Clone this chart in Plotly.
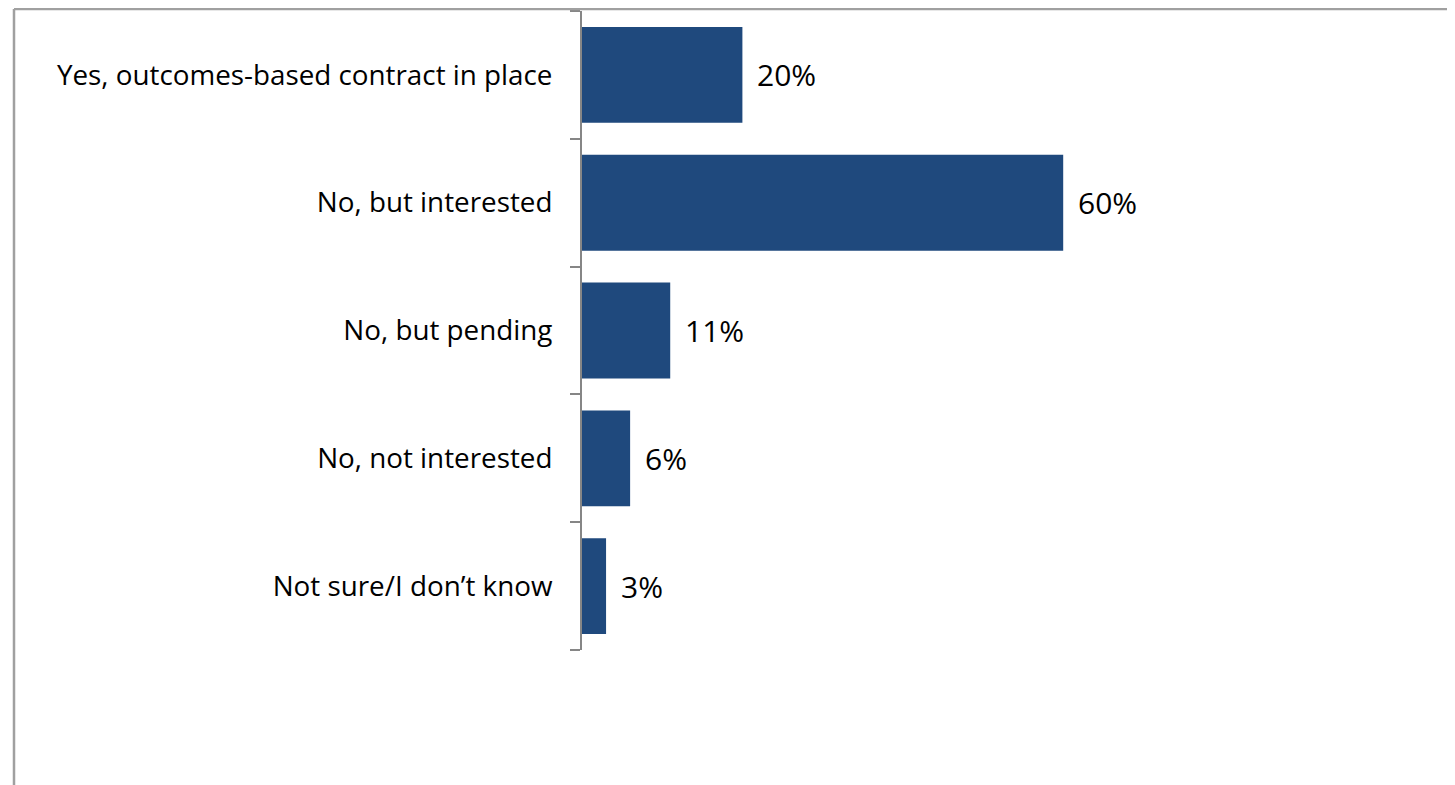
import plotly.graph_objects as go

categories = [
    "Yes, outcomes-based contract in place",
    "No, but interested",
    "No, but pending",
    "No, not interested",
    "Not sure/I don\u2019t know",
]
values = [20, 60, 11, 6, 3]
labels = ["20%", "60%", "11%", "6%", "3%"]

W, H = 1455, 785
ml, mt, mb, mr = 574, 3, 143, 0
pw = W - ml - mr
ph = H - mt - mb
xmax = pw / 8.02

fig = go.Figure()
fig.add_trace(go.Bar(
    y=categories, x=values, orientation="h",
    marker=dict(color="#1F497D", line=dict(width=0)),
    width=0.75,
    hoverinfo="x+y",
))

for c, v, t in zip(categories, values, labels):
    fig.add_annotation(x=v, y=c, text=t, showarrow=False,
                       xanchor="left", yanchor="middle", xshift=13,
                       font=dict(family="Open Sans", size=30, color="#000000"))

fig.update_layout(
    width=W, height=H,
    margin=dict(l=ml, r=mr, t=mt, b=mb, pad=0),
    paper_bgcolor="white", plot_bgcolor="white",
    showlegend=False,
    font=dict(family="Open Sans", size=27.8, color="#000000"),
    xaxis=dict(range=[0, xmax], visible=False, fixedrange=True),
    yaxis=dict(
        categoryorder="array", categoryarray=categories[::-1],
        showline=True, linecolor="#868686", linewidth=2,
        ticks="outside", ticklen=10, tickcolor="#868686", tickwidth=1.5,
        tickson="boundaries", showgrid=False, zeroline=False,
        ticklabelstandoff=22,
        tickfont=dict(family="Open Sans", size=27.8, color="#000000"),
    ),
    bargap=0.25,
)

# outer chart border (top and left)
x_left = (6 - ml) / pw
y_top = 1 + (mt - 1) / ph
y_bot = -mb / ph
fig.add_shape(type="line", xref="paper", yref="paper",
              x0=x_left, x1=(W - ml) / pw, y0=y_top, y1=y_top,
              line=dict(color="#A0A0A0", width=2.5))
fig.add_shape(type="line", xref="paper", yref="paper",
              x0=x_left, x1=x_left, y0=y_top, y1=y_bot,
              line=dict(color="#A0A0A0", width=2.5))

fig.write_html("out.html")
